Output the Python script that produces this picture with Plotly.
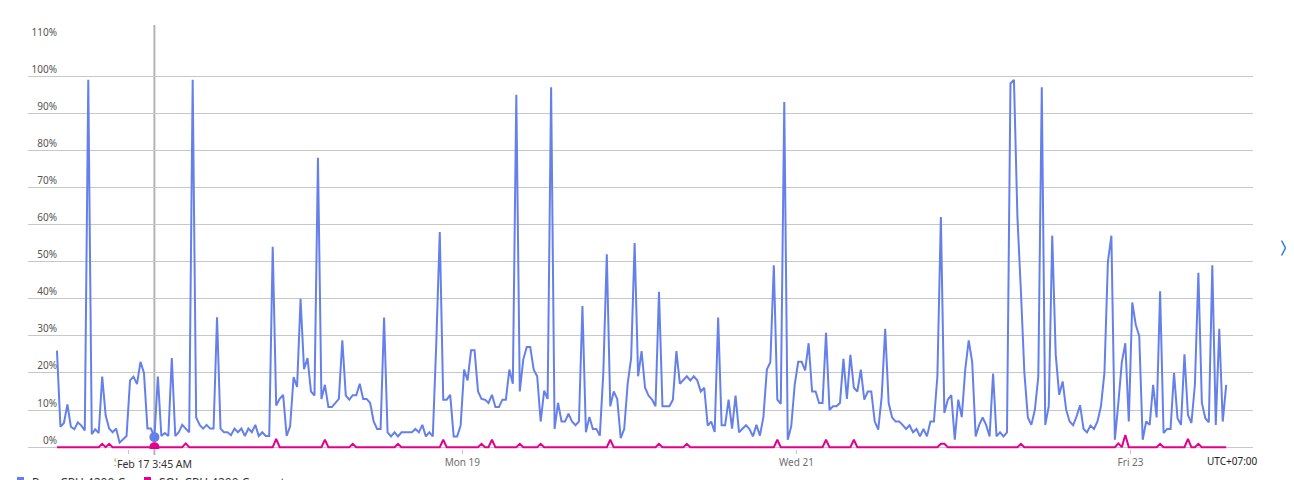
import pandas as pd
import plotly.graph_objects as go

# ---------------- data ----------------
start_time = "2024-02-16 13:45"
n_points = 337
times = pd.date_range(start_time, periods=n_points, freq="30min")

proc_cpu = [
    26, 5.5, 6.5, 11.5, 5.5, 4.8, 6.7, 5.8, 4.5, 99, 3.5, 4.8, 3.8, 19, 8.5, 5, 4, 5, 1.2, 2.2, 3, 18, 19, 17,
    23, 20, 5, 5, 2.7, 19, 3, 3.8, 3, 24, 3, 4, 6, 5, 4, 99, 8, 6, 5, 6, 5, 5, 35, 5,
    4, 4, 3.2, 5, 4, 5, 3, 5, 4, 6, 3, 4, 3, 3, 54, 11.2, 13, 14.1, 3, 5.6, 18.9, 16.2, 40, 21,
    24, 15, 13.9, 78, 13, 16.8, 10.8, 10.8, 11.9, 13, 28.8, 13.9, 12.8, 14, 14, 17.1, 13, 13, 11.9, 6.9, 4.9, 4.9, 34.9, 4,
    2.9, 4, 2.9, 4, 4, 4, 4, 4.9, 4, 6, 2.9, 4, 2.9, 28, 58, 12.8, 12.8, 14.1, 2.9, 2.9, 5.8, 20.9, 18, 26.1,
    26.1, 15, 13, 12.8, 11.9, 14.1, 10.8, 10.8, 12.8, 12.8, 20.9, 17.1, 95, 15, 23.6, 27, 27, 20.9, 19.1, 6.9, 15.2, 13, 97, 4.9,
    11.9, 6.9, 6.9, 9, 6.9, 5.9, 6.9, 38, 4, 8.1, 4.9, 4.9, 3.1, 20, 52, 11, 15, 13, 2.4, 4.9, 17.1, 24, 55, 19.1,
    25.9, 16, 13.9, 12.8, 11, 41.9, 11, 11, 11, 12.8, 25.9, 17.1, 18, 19.1, 18, 19.1, 18, 15, 16, 5.8, 6.9, 4.1, 34.9, 5.9,
    5.9, 12.8, 5, 13.9, 4, 4.9, 5.9, 4.9, 2.9, 6, 3.1, 8.1, 20.9, 22.9, 49, 12.8, 11.7, 93, 2, 5.6, 16.8, 23, 23, 20.7,
    28, 15, 15, 11.9, 11.9, 30.8, 10, 11, 11, 11.9, 23.8, 13, 24.9, 16, 15, 20.9, 12.8, 15, 15, 6.9, 4.7, 13.7, 31.9, 11.9,
    8, 6.9, 6.9, 6, 4.9, 5.9, 4, 4.9, 2.9, 4.9, 2.9, 6.9, 6.9, 19.1, 62, 9.2, 12.8, 14, 2, 12.8, 8.1, 20.9, 28.8, 22.9,
    2.9, 6, 8, 6, 2.9, 19.8, 2.9, 4, 2.9, 4, 98, 99, 62, 42, 20, 8, 6, 10, 19, 97, 6, 11, 57, 25,
    14.1, 17.7, 10.1, 6.9, 5.9, 8.3, 11.3, 4.9, 4, 5.8, 4.9, 6.9, 11, 20, 50, 57, 2, 11.9, 22.9, 28, 6.9, 39, 33, 30,
    2, 6.9, 6, 16.8, 8, 42, 3.8, 4.9, 4.9, 20, 7.8, 6, 25, 8.7, 6.5, 16.8, 47, 11.9, 7.8, 6.7, 49, 6, 31.9, 6.9,
    16.8,
]

sql_cpu = [
    0, 0, 0, 0, 0, 0, 0, 0, 0, 0, 0, 0, 0, 0.9, 0, 0.9, 0, 0, 0, 0, 0, 0, 0, 0,
    0, 0, 0, 0, 0, 0, 0, 0, 0, 0, 0, 0, 0, 1, 0, 0, 0, 0, 0, 0, 0, 0, 0, 0,
    0, 0, 0, 0, 0, 0, 0, 0, 0, 0, 0, 0, 0, 0, 0, 2.2, 0, 0, 0, 0, 0, 0, 0, 0,
    0, 0, 0, 0, 0, 2, 0, 0, 0, 0, 0, 0, 0, 0.9, 0, 0, 0, 0, 0, 0, 0, 0, 0, 0,
    0, 0, 0.9, 0, 0, 0, 0, 0, 0, 0, 0, 0, 0, 0, 0, 2, 0, 0, 0, 0, 0, 0, 0, 0,
    0, 0, 0.9, 0, 0, 2, 0, 0, 0, 0, 0, 0, 0, 0.9, 0, 0, 0, 0, 0, 0.9, 0, 0, 0, 0,
    0, 0, 0, 0, 0, 0, 0, 0, 0, 0, 0, 0, 0, 0, 0, 2, 0, 0, 0, 0, 0, 0, 0, 0,
    0, 0, 0, 0, 0, 0.9, 0, 0, 0, 0, 0, 0, 0, 0.9, 0, 0, 0, 0, 0, 0, 0, 0, 0, 0,
    0, 0, 0, 0, 0, 0, 0, 0, 0, 0, 0, 0, 0, 0, 0, 2, 0, 0, 0, 0, 0, 0, 0, 0,
    0, 0, 0, 0, 0, 2, 0, 0, 0, 0, 0, 0, 0, 2, 0, 0, 0, 0, 0, 0, 0, 0, 0, 0,
    0, 0, 0, 0, 0, 0, 0, 0, 0, 0, 0, 0, 0, 0, 0.9, 0.9, 0, 0, 0, 0, 0, 0, 0, 0,
    0, 0, 0, 0, 0, 0, 0, 0, 0, 0, 0, 0, 0, 0.9, 0, 0, 0, 0, 0, 0, 0, 0, 0, 0,
    0, 0, 0, 0, 0, 0, 0, 0, 0, 0, 0, 0, 0, 0, 0, 0, 0, 1, 0, 3.3, 0, 0, 0, 0,
    0, 0, 0, 0, 0, 0.9, 0, 0, 0, 0, 0, 0, 0, 2.2, 0, 0, 0.9, 0, 0, 0, 0, 0, 0, 0,
    0,
]

series_names = ["Proc CPU 4200 Core", "SQL CPU 4200 Current"]
series_colors = ["#6580ea", "#e3008c"]

y_ticks = [0, 10, 20, 30, 40, 50, 60, 70, 80, 90, 100, 110]
y_labels = ["0%", "10%", "20%", "30%", "40%", "50%", "60%", "70%", "80%", "90%", "100%", "110%"]
x_ticks = ["2024-02-17", "2024-02-19", "2024-02-21", "2024-02-23"]
x_labels = ["Sat 17", "Mon 19", "Wed 21", "Fri 23"]
x_range = ["2024-02-16 09:35:20", "2024-02-23 17:35:50"]
hover_index = 28
hover_label = "Feb 17 3:45 AM"
timezone_label = "UTC+07:00"

# ---------------- figure ----------------
# the page body has an 8px default margin, so the figure is placed at (8, 8)
OFF = 8
W, H = 1294 - OFF, 480 - OFF
ML, MT = 28 - OFF, 39 - OFF
PW, PH = 1225, 410
MR, MB = W - ML - PW, H - MT - PH


def px_x(p):
    """window pixel x -> paper coordinate"""
    return (p - OFF - ML) / PW


def px_y(p):
    """window pixel y -> paper coordinate"""
    return (MT + PH - (p - OFF)) / PH


FONT = "Noto Sans"

fig = go.Figure()
for vals, name, col in zip([proc_cpu, sql_cpu], series_names, series_colors):
    fig.add_trace(go.Scatter(
        x=times, y=vals, mode="lines", name=name,
        line=dict(color=col, width=2), showlegend=False, hoverinfo="skip",
    ))

# hovered point markers
for vals, col in zip([proc_cpu, sql_cpu], series_colors):
    fig.add_trace(go.Scatter(
        x=[times[hover_index]], y=[vals[hover_index]], mode="markers",
        marker=dict(color=col, size=10, line=dict(width=0)),
        showlegend=False, hoverinfo="skip",
    ))

shapes = [
    dict(type="line", xref="x", yref="paper",
         x0=times[hover_index], x1=times[hover_index],
         y0=px_y(455), y1=px_y(25),
         line=dict(color="#b4b4b4", width=2), layer="below"),
]

# chevron (pager arrow) at the right edge, drawn as two short strokes
chev = [(1281.5, 240.5), (1285.5, 248), (1281.5, 255.5)]
for (ax, ay), (bx, by) in [(chev[0], chev[1]), (chev[1], chev[2])]:
    shapes.append(dict(type="line", xref="paper", yref="paper",
                       x0=px_x(ax), y0=px_y(ay), x1=px_x(bx), y1=px_y(by),
                       line=dict(color="#2b7fe0", width=1.5)))

annotations = [
    dict(xref="x", yref="paper", x=times[hover_index], y=px_y(464),
         text=hover_label, showarrow=False, xanchor="center", yanchor="middle",
         font=dict(family=FONT, size=10.5, color="#333333"),
         bgcolor="rgba(255,255,255,0.88)", borderpad=1),
    dict(xref="paper", yref="paper", x=px_x(1232), y=px_y(461),
         text=timezone_label, showarrow=False, xanchor="center", yanchor="middle",
         font=dict(family=FONT, size=10, color="#222222")),
]

# legend (bottom, partly cut off by the window edge)
legend_items = [(17, 30), (144, 157)]
for (sq_x, tx_x), name, col in zip(legend_items, series_names, series_colors):
    shapes.append(dict(type="rect", xref="paper", yref="paper",
                       x0=px_x(sq_x), x1=px_x(sq_x + 7),
                       y0=px_y(485), y1=px_y(477),
                       fillcolor=col, line=dict(width=0)))
    annotations.append(dict(xref="paper", yref="paper", x=px_x(tx_x), y=px_y(482),
                            text=name, showarrow=False, xanchor="left", yanchor="middle",
                            font=dict(family=FONT, size=12, color="#333333")))

fig.update_layout(
    template="none",
    width=W, height=H,
    margin=dict(l=ML, r=MR, t=MT, b=MB, pad=0),
    paper_bgcolor="white", plot_bgcolor="white",
    font=dict(family=FONT, size=10, color="#666666"),
    showlegend=False,
    shapes=shapes,
    annotations=annotations,
    xaxis=dict(
        type="date", range=x_range,
        tickvals=x_ticks, ticktext=x_labels,
        showgrid=False, zeroline=False, showline=False,
        ticks="outside", ticklen=4, tickwidth=1, tickcolor="#c8c8c8",
        tickfont=dict(family=FONT, size=10, color="#6e6e6e"),
        automargin=False, fixedrange=True,
    ),
    yaxis=dict(
        range=[-0.5, 110],
        tickvals=y_ticks, ticktext=y_labels,
        showgrid=True, gridcolor="#c8c8c8", gridwidth=1,
        zeroline=False, showline=False, ticks="",
        anchor="free", position=px_x(57),
        ticklabelposition="outside top",
        tickfont=dict(family=FONT, size=10, color="#555555"),
        automargin=False, fixedrange=True,
    ),
)

fig.write_html("out.html", post_script="document.documentElement.style.overflow='hidden';")
